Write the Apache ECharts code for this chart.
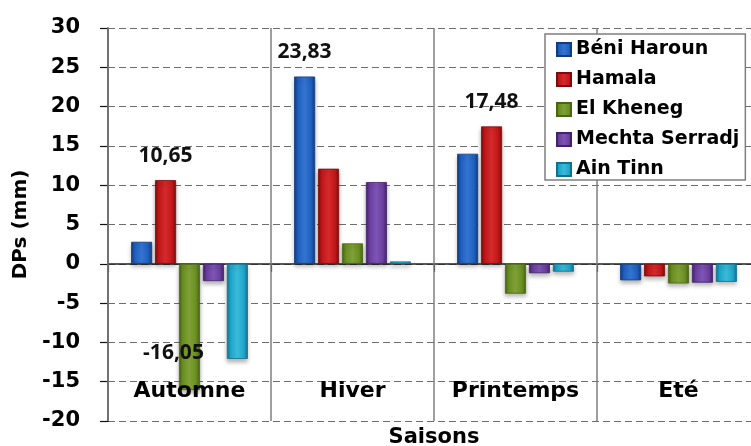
<!DOCTYPE html>
<html>
<head>
<meta charset="utf-8">
<script src="https://cdn.jsdelivr.net/npm/echarts@6/dist/echarts.min.js"></script>
<style>
  html, body { margin: 0; padding: 0; background: #ffffff; }
  #chart { width: 751px; height: 446px; }
</style>
</head>
<body>
<div id="chart"></div>
<script>
// Seasonal precipitation deficit (DPs, mm) per station
const seasons = ['Automne', 'Hiver', 'Printemps', 'Eté'];
const stations = ['Béni Haroun', 'Hamala', 'El Kheneg', 'Mechta Serradj', 'Ain Tinn'];

const beniHaroun    = [2.8, 23.83, 14.0, -2.1];
const hamala        = [10.65, 12.1, 17.48, -1.6];
const elKheneg      = [-16.05, 2.6, -3.8, -2.5];
const mechtaSerradj = [-2.2, 10.4, -1.2, -2.4];
const ainTinn       = [-12.1, 0.3, -1.0, -2.3];

const yMin = -20, yMax = 30, yStep = 5;

// values that carry a printed label: [station index, season index]
const labelledPoints = [[1, 0], [0, 1], [1, 2], [2, 0]];

const seriesValues = [beniHaroun, hamala, elKheneg, mechtaSerradj, ainTinn];

// dark edge / body colour for each station's bevelled bars
const palette = [
  { dark: '#123c80', base: '#1f5fc0', light: '#3474d0' },
  { dark: '#7e0b0b', base: '#c2171a', light: '#d42a2c' },
  { dark: '#4a6613', base: '#6b8f22', light: '#7ea036' },
  { dark: '#43226a', base: '#6a3e9f', light: '#7d55b4' },
  { dark: '#127191', base: '#1ea6ca', light: '#3bbad9' }
];

const FONT = 'DejaVu Sans';

function bevel(c) {
  return new echarts.graphic.LinearGradient(0, 0, 1, 0, [
    { offset: 0, color: c.dark },
    { offset: 0.18, color: c.base },
    { offset: 0.5, color: c.light },
    { offset: 0.82, color: c.base },
    { offset: 1, color: c.dark }
  ]);
}

function fmt(v) {
  return v.toFixed(2).replace('.', ',');
}

const series = stations.map(function (name, si) {
  const data = seriesValues[si].map(function (v, ci) {
    const isLabelled = labelledPoints.some(function (p) { return p[0] === si && p[1] === ci; });
    if (!isLabelled) return v;
    const label = v >= 0
      ? { show: true, position: 'top', distance: 14 }
      : { show: true, position: 'inside', offset: [-16, 26] };
    return { value: v, label: label };
  });
  return {
    name: name,
    type: 'bar',
    xAxisIndex: 0,
    barWidth: 21,
    barGap: '14%',
    data: data,
    itemStyle: {
      color: bevel(palette[si]),
      borderColor: palette[si].dark,
      borderWidth: 0.8,
      shadowColor: 'rgba(0,0,0,0.28)',
      shadowBlur: 4,
      shadowOffsetY: 3
    },
    label: {
      show: false,
      formatter: function (p) { return fmt(p.value); },
      fontFamily: 'Open Sans',
      fontWeight: 'bold',
      fontSize: 21,
      color: '#111111'
    },
    emphasis: { disabled: true },
    z: 3
  };
});

const chart = echarts.init(document.getElementById('chart'), null, { renderer: 'canvas' });

chart.setOption({
  animation: false,
  backgroundColor: '#ffffff',
  textStyle: { fontFamily: FONT },
  grid: {
    left: 108,
    top: 28,
    right: -9,
    bottom: 25,
    containLabel: false,
    outerBoundsMode: 'none'
  },
  legend: {
    orient: 'vertical',
    left: 545,
    top: 34,
    z: 20,
    backgroundColor: '#ffffff',
    borderColor: '#7f7f7f',
    borderWidth: 1.5,
    padding: [6, 6, 1, 11],
    itemGap: 11,
    itemWidth: 14,
    itemHeight: 13,
    icon: 'rect',
    textStyle: {
      fontFamily: FONT,
      fontWeight: 'bold',
      fontSize: 19,
      lineHeight: 18,
      color: '#000000'
    },
    data: stations
  },
  xAxis: [
    {
      // season labels, axis title and the vertical season separators
      type: 'category',
      data: seasons,
      position: 'bottom',
      z: 6,
      name: 'Saisons',
      nameLocation: 'middle',
      nameGap: 4,
      nameTextStyle: { fontFamily: FONT, fontWeight: 'bold', fontSize: 21, color: '#000000', verticalAlign: 'top' },
      axisLine: { show: false, onZero: false },
      axisTick: { show: false },
      axisLabel: {
        interval: 0,
        margin: -30,
        verticalAlign: 'middle',
        fontFamily: FONT,
        fontWeight: 'bold',
        fontSize: 22,
        color: '#000000',
        hideOverlap: false
      },
      splitLine: { show: true, interval: 0, lineStyle: { color: '#7f7f7f', width: 1.5, type: 'solid' } }
    },
    {
      // zero line with short ticks between seasons
      type: 'category',
      data: seasons,
      position: 'bottom',
      axisLine: { show: true, onZero: true, lineStyle: { color: '#222222', width: 1.5 } },
      axisTick: { show: true, interval: 0, length: 8, lineStyle: { color: '#222222', width: 1.2 } },
      axisLabel: { show: false },
      splitLine: { show: false }
    }
  ],
  yAxis: {
    type: 'value',
    min: yMin,
    max: yMax,
    interval: yStep,
    name: 'DPs (mm)',
    nameLocation: 'middle',
    nameGap: 74,
    nameTextStyle: { fontFamily: FONT, fontWeight: 'bold', fontSize: 20, color: '#000000' },
    axisLine: { show: true, lineStyle: { color: '#111111', width: 1.5 } },
    axisTick: { show: true, length: 8, lineStyle: { color: '#111111', width: 1.2 } },
    axisLabel: {
      margin: 28,
      fontFamily: FONT,
      fontWeight: 'bold',
      fontSize: 21,
      color: '#000000'
    },
    splitLine: { show: true, lineStyle: { color: '#6e6e6e', width: 1.2, type: [7, 4] } }
  },
  series: series
});
</script>
</body>
</html>
